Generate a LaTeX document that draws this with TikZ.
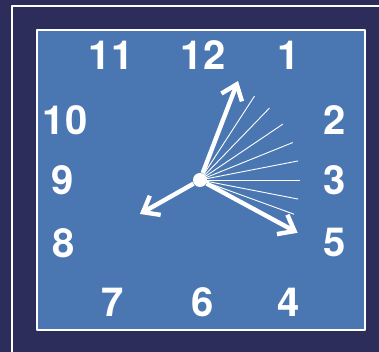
\documentclass[tikz,border=0pt]{standalone}
\usepackage{fontspec}
\setmainfont{TeX Gyre Heros}
\usepackage{tikz}
\usetikzlibrary{arrows.meta,calc}
\definecolor{frameblue}{HTML}{2C2D5B}
\definecolor{faceblue}{HTML}{4A77B1}
\tikzset{numeral/.style={text=white,font=\fontsize{20}{24}\selectfont\bfseries,inner sep=0pt},
  hand/.style={white,line width=2.2pt,-{Straight Barb[length=7pt,width=11pt]}},
  ray/.style={white,line width=0.45pt}}

\begin{document}
\begin{tikzpicture}[x=0.5pt,y=0.5pt,line join=round]
\useasboundingbox (0,0) rectangle (379,352);
% --- frame and face
\fill[frameblue] (0,0) rectangle (379,352);
\draw[white,line width=1pt] (12,0) -- (12,346) -- (379,346);
\draw[white,line width=0.8pt,fill=faceblue] (37,22) rectangle (365,322);
% --- numerals
\node[numeral] (n11) at (111,297) {11};
\node[numeral] (n12) at (203,297) {12};
\node[numeral] (n1) at (289,297) {1};
\node[numeral] (n10) at (65,232) {10};
\node[numeral] (n2) at (335,232) {2};
\node[numeral] (n9) at (63,172) {9};
\node[numeral] (n3) at (335,172) {3};
\node[numeral] (n8) at (64,109) {8};
\node[numeral] (n5) at (335,109) {5};
\node[numeral] (n7) at (113,50) {7};
\node[numeral] (n6) at (203,50) {6};
\node[numeral] (n4) at (289,50) {4};
% --- hands
\node[circle,fill=white,inner sep=0pt,minimum size=7pt] (hub) at (200,172) {};
\foreach \a in {57,46,34,22,11,0,-11,-20} \draw[ray] (hub.center) -- ++(\a:100);
\coordinate (tipA) at ($(hub)+(69:106)$);
\coordinate (tipB) at ($(hub)+(209.5:69)$);
\coordinate (tipC) at ($(hub)+(-28.4:111)$);
\draw[hand] (hub) -- (tipA);
\draw[hand] (hub) -- (tipB);
\draw[hand] (hub) -- (tipC);
\end{tikzpicture}
\end{document}
